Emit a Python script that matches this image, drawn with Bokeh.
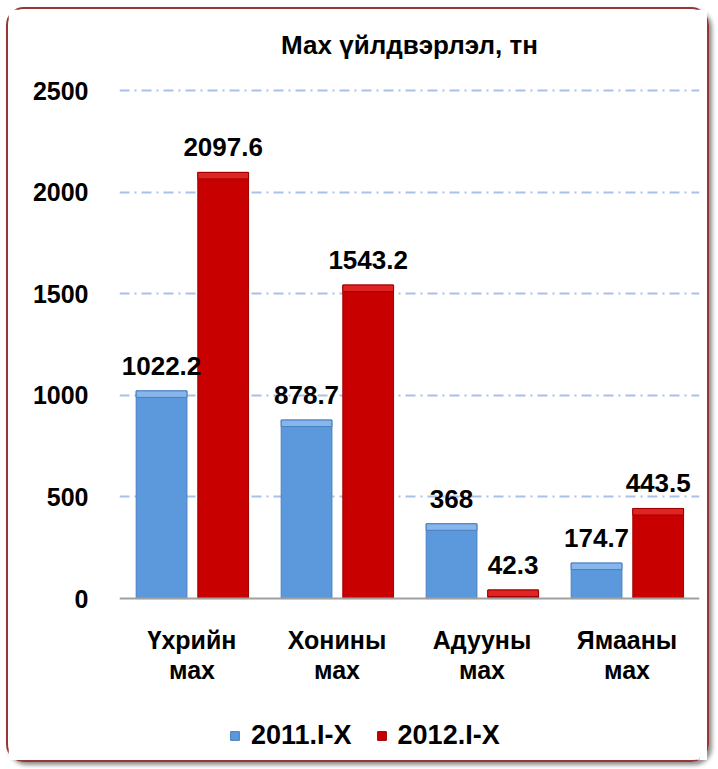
from bokeh.plotting import figure
from bokeh.models import FactorRange, ColumnDataSource, LabelSet, Legend, LegendItem, Span
from bokeh.core.properties import value
from bokeh.transform import dodge
from bokeh.embed import file_html
from bokeh.resources import INLINE

categories = ["Үхрийн мах", "Хонины мах", "Адууны мах", "Ямааны мах"]
series = ["2011.I-X", "2012.I-X"]
values_2011 = [1022.2, 878.7, 368, 174.7]
values_2012 = [2097.6, 1543.2, 42.3, 443.5]
y_ticks = [0, 500, 1000, 1500, 2000, 2500]

FONT = "Liberation Sans"
BLUE = "#5B98DC"
BLUE_TOP = "#86B6EC"
RED = "#C80000"
RED_TOP = "#E02424"
CAP = 32  # height of the lighter bevel strip at the top of each bar, in data units

src = ColumnDataSource(dict(
    cat=categories,
    v1=values_2011,
    v2=values_2012,
    c1=[max(v - CAP, 0) for v in values_2011],
    c2=[max(v - CAP, 0) for v in values_2012],
    l1=[f"{v:g}" for v in values_2011],
    l2=[f"{v:g}" for v in values_2012],
    line1=[c.split(" ")[0] for c in categories],
    line2=[c.split(" ")[1] for c in categories],
    zero=[0] * len(categories),
))

p = figure(
    x_range=FactorRange(*categories, range_padding=0),
    y_range=(-792, 2609),
    width=703, height=755,
    output_backend="svg", toolbar_location=None,
    title="Мах үйлдвэрлэл, тн",
    x_axis_location=None,
    min_border_left=111, min_border_right=12,
    min_border_top=59, min_border_bottom=5,
)
p.styles = {"border": "2px solid #953735", "border-radius": "18px",
            "box-shadow": "3px 3px 4px rgba(0,0,0,0.45)", "box-sizing": "border-box",
            "margin-left": "6px", "margin-top": "7px"}
p.outline_line_color = None
p.background_fill_color = "white"
p.border_fill_color = "white"

p.title.align = "center"
p.title.text_font = FONT
p.title.text_font_size = "26px"
p.title.text_font_style = "bold"
p.title.text_color = "black"
p.title.standoff = 18

x1 = dodge("cat", -0.21, range=p.x_range)
x2 = dodge("cat", 0.215, range=p.x_range)

r1 = p.vbar(x=x1, top="v1", width=0.35, source=src,
            fill_color=BLUE, line_color="#4A7FBE", line_width=1)
r2 = p.vbar(x=x2, top="v2", width=0.35, source=src,
            fill_color=RED, line_color="#A00000", line_width=1)
# lighter bevel strip at each bar's top
p.vbar(x=x1, top="v1", bottom="c1", width=0.35, source=src,
       fill_color=BLUE_TOP, line_color="#4A7FBE", line_width=1)
p.vbar(x=x2, top="v2", bottom="c2", width=0.35, source=src,
       fill_color=RED_TOP, line_color="#A00000", line_width=1)

# baseline
p.add_layout(Span(location=0, dimension="width", line_color="#A0A0A0", line_width=2))

lab_kw = dict(source=src, y_offset=16, text_align="center", text_baseline="bottom",
              text_font=value(FONT), text_font_size=value("26px"),
              text_font_style="bold", text_color="black")
p.add_layout(LabelSet(x=x1, y="v1", text="l1", **lab_kw))
p.add_layout(LabelSet(x=x2, y="v2", text="l2", **lab_kw))

# category labels (two lines) below the baseline
cat_kw = dict(source=src, x="cat", y="zero", text_align="center", text_baseline="alphabetic",
              text_font=value(FONT), text_font_size=value("25px"),
              text_font_style="bold", text_color="black")
p.add_layout(LabelSet(text="line1", y_offset=-50, **cat_kw))
p.add_layout(LabelSet(text="line2", y_offset=-80, **cat_kw))

# y axis
p.yaxis.ticker = y_ticks
p.yaxis.axis_line_color = None
p.yaxis.major_tick_line_color = None
p.yaxis.minor_tick_line_color = None
p.yaxis.major_label_standoff = 25
p.yaxis.major_label_text_font = FONT
p.yaxis.major_label_text_font_size = "25px"
p.yaxis.major_label_text_font_style = "bold"
p.yaxis.major_label_text_color = "black"

p.xgrid.grid_line_color = None
p.ygrid.ticker = y_ticks[1:]
p.ygrid.grid_line_color = "#A9C0EA"
p.ygrid.grid_line_width = 2
p.ygrid.grid_line_dash = "10 5 2 5"

legend = Legend(items=[LegendItem(label=series[0], renderers=[r1]),
                       LegendItem(label=series[1], renderers=[r2])],
                orientation="horizontal", location=(110, 8))
legend.border_line_color = None
legend.background_fill_alpha = 0
legend.label_text_font = FONT
legend.label_text_font_size = "27px"
legend.label_text_font_style = "bold"
legend.label_text_color = "black"
legend.glyph_width = 11
legend.glyph_height = 11
legend.label_standoff = 11
legend.spacing = 24
legend.margin = 0
legend.padding = 4
p.add_layout(legend, "center")

open("out.html", "w").write(file_html(p, INLINE))
